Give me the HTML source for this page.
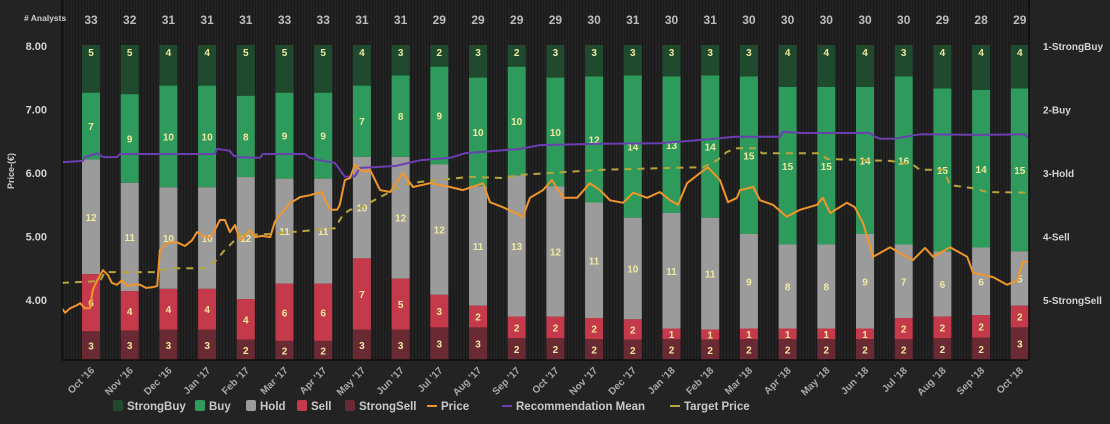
<!DOCTYPE html>
<html><head><meta charset="utf-8"><style>
html,body{margin:0;padding:0;background:#232323;}
svg text{font-family:"Liberation Sans",sans-serif;font-weight:bold;}
</style></head><body>
<svg id="chart" width="1110" height="419" xmlns="http://www.w3.org/2000/svg">
<defs>
<pattern id="stripes" width="3" height="10" patternUnits="userSpaceOnUse">
<rect width="3" height="10" fill="#222"/><rect width="1" height="10" fill="#1a1a1a"/>
</pattern>
</defs>
<rect width="1110" height="419" fill="#232323"/>
<rect x="62" y="0" width="967" height="360" fill="url(#stripes)"/>
<g id="bars"></g>
<g id="lines"></g>
<g id="axes"></g>
<g id="legend"></g>
</svg>
<script>
const months = ["Oct '16","Nov '16","Dec '16","Jan '17","Feb '17","Mar '17","Apr '17","May '17","Jun '17","Jul '17","Aug '17","Sep '17","Oct '17","Nov '17","Dec '17","Jan '18","Feb '18","Mar '18","Apr '18","May '18","Jun '18","Jul '18","Aug '18","Sep '18","Oct '18"];
const strongBuy = [5,5,4,4,5,5,5,4,3,2,3,2,3,3,3,3,3,3,4,4,4,3,4,4,4];
const buy = [7,9,10,10,8,9,9,7,8,9,10,10,10,12,14,13,14,15,15,15,14,16,15,14,15];
const hold = [12,11,10,10,12,11,11,10,12,12,11,13,12,11,10,11,11,9,8,8,9,7,6,6,5];
const sell = [6,4,4,4,4,6,6,7,5,3,2,2,2,2,2,1,1,1,1,1,1,2,2,2,2];
const strongSell = [3,3,3,3,2,2,2,3,3,3,3,2,2,2,2,2,2,2,2,2,2,2,2,2,3];
const priceTicks = ["4.00","5.00","6.00","7.00","8.00"];
const ratingTicks = ["1-StrongBuy","2-Buy","3-Hold","4-Sell","5-StrongSell"];
const priceT = [-0.75,-0.67,-0.54,-0.36,-0.28,-0.16,-0.03,0.05,0.16,0.31,0.44,0.54,0.67,0.80,0.93,1.09,1.27,1.42,1.58,1.71,1.78,1.91,2.04,2.25,2.43,2.61,2.74,2.89,3.07,3.20,3.33,3.46,3.59,3.72,3.85,3.98,4.11,4.24,4.42,4.63,4.75,4.88,5.01,5.14,5.27,5.40,5.66,5.87,5.97,6.05,6.18,6.36,6.43,6.56,6.69,6.82,6.95,7.08,7.21,7.47,7.73,8.06,8.32,8.76,9.28,9.61,10.13,10.31,10.65,11.16,11.34,11.68,11.91,12.20,12.56,12.89,13.15,13.41,13.75,14.01,14.37,14.70,14.96,15.17,15.40,15.74,15.94,16.25,16.46,16.69,16.77,17.11,17.29,17.62,17.98,18.32,18.76,18.91,19.10,19.53,19.74,19.95,20.21,20.65,20.90,21.24,21.55,21.76,22.20,22.64,22.79,23.31,23.67,23.93,24.08,24.24];
const priceV = [3.87,3.80,3.87,3.92,3.95,3.87,3.87,4.16,4.31,4.47,4.39,4.27,4.24,4.31,4.22,4.24,4.24,4.19,4.20,4.22,4.79,4.87,4.91,4.90,4.85,4.94,5.07,5.01,4.98,5.10,5.26,5.26,5.07,5.18,4.94,5.01,5.10,4.99,5.01,4.99,5.23,5.34,5.42,5.53,5.57,5.62,5.65,5.69,5.70,5.57,5.42,5.42,5.50,5.89,5.92,6.13,6.05,6.02,6.05,5.73,5.70,6.00,5.78,5.84,5.78,5.73,5.84,5.54,5.46,5.31,5.61,5.73,5.89,5.61,5.61,5.84,5.73,5.57,5.53,5.69,5.61,5.70,5.57,5.50,5.84,6.00,6.09,5.89,5.54,5.61,5.73,5.78,5.57,5.50,5.31,5.42,5.50,5.61,5.37,5.53,5.46,5.21,4.68,4.83,4.74,4.63,4.82,4.68,4.83,4.68,4.43,4.36,4.24,4.31,4.60,4.60];
const recT = [-0.75,-0.21,-0.16,0.16,0.31,0.67,0.75,3.20,3.26,3.59,3.67,3.80,4.37,4.44,5.53,5.66,5.92,6.30,6.56,6.82,6.95,7.86,8.50,9.28,9.66,11.09,11.60,13.15,14.70,15.74,16.64,17.80,17.88,18.32,20.13,20.26,20.39,20.78,21.03,21.42,22.97,24.13,24.24];
const recV = [2.83,2.81,2.75,2.69,2.75,2.75,2.70,2.70,2.62,2.65,2.72,2.75,2.76,2.70,2.70,2.76,2.80,2.84,3.06,3.05,2.92,2.89,2.80,2.76,2.69,2.62,2.56,2.54,2.53,2.48,2.43,2.43,2.35,2.37,2.37,2.43,2.46,2.46,2.43,2.39,2.40,2.39,2.45];
const targetT = [-0.75,0.23,0.36,1.65,1.78,2.17,2.95,3.20,3.46,3.85,4.63,6.30,6.51,6.69,6.95,7.47,8.06,8.50,9.79,10.65,11.09,12.38,13.23,14.96,15.81,16.18,16.43,16.69,17.21,17.34,18.84,19.02,20.65,21.24,21.42,22.02,22.20,22.79,23.15,24.24];
const targetV = [4.27,4.30,4.44,4.44,4.47,4.50,4.50,4.60,4.79,5.02,5.04,5.13,5.34,5.42,5.45,5.62,5.81,5.86,5.94,5.92,5.97,6.02,6.05,6.08,6.09,6.20,6.33,6.39,6.39,6.31,6.31,6.22,6.19,6.13,6.05,6.05,5.81,5.76,5.70,5.69];

const NS="http://www.w3.org/2000/svg";
const PLOT_TOP=45, PLOT_BOT=360, X0=91, DX=38.7, BW=18;
const xOf=t=>X0+t*DX;
const yPrice=p=>46+(8-p)*63.5;
const yRating=r=>46+(r-1)*63.5;
function mk(tag,attrs,parent,text){const e=document.createElementNS(NS,tag);for(const k in attrs)e.setAttribute(k,attrs[k]);if(text!==undefined)e.textContent=text;parent.appendChild(e);return e;}
const bars=document.getElementById('bars'), lines=document.getElementById('lines'), axes=document.getElementById('axes'), legend=document.getElementById('legend');
const cats=[["strongbuy",strongBuy,"#1f4a2e"],["buy",buy,"#2e9a5c"],["hold",hold,"#9b9b9b"],["sell",sell,"#c43a4b"],["strongsell",strongSell,"#6a2a33"]];
months.forEach((m,i)=>{
  const total=strongBuy[i]+buy[i]+hold[i]+sell[i]+strongSell[i];
  const cx=xOf(i); let y=PLOT_TOP; const unit=(PLOT_BOT-PLOT_TOP)/total;
  cats.forEach(c=>{
    const v=c[1][i], h=v*unit;
    const r=mk('rect',{x:cx-BW/2,y:y,width:BW,height:h,fill:c[2]},bars);
    
    
    const lbl=mk('text',{x:cx,y:(c[0]==="strongbuy"?y+11:y+h/2+4),'text-anchor':'middle','font-size':'10',fill:'#f0e9a0'},bars,String(v));
    
    
    y+=h;
  });
  const tc=mk('text',{x:cx,y:24,'text-anchor':'middle','font-size':'12',fill:'#bdbdbd'},axes,String(total));
  
  
  const xl=mk('text',{x:cx+4,y:371,'text-anchor':'end','font-size':'10',fill:'#a8a8a8',transform:`rotate(-45 ${cx+4} 371)`},axes,m);
  
  
});
function drawLine(ts,vs,yf,color,w,dash,name){
  const d=ts.map((t,i)=>(i?'L':'M')+xOf(t).toFixed(1)+' '+yf(vs[i]).toFixed(1)).join(' ');
  const p=mk('path',{d:d,fill:'none',stroke:color,'stroke-width':w,'stroke-linejoin':'round'},lines);
  if(dash)p.setAttribute('stroke-dasharray',dash);
  
  
}
drawLine(recT,recV,yRating,'#6a3fb0',2,null,'recommendation-mean-line');
drawLine(targetT,targetV,yPrice,'#b7a53e',2,'7,6','target-price-line');
drawLine(priceT,priceV,yPrice,'#f0952c',2,null,'price-line');
// axes lines
let a=mk('line',{x1:62,y1:0,x2:62,y2:360,stroke:'#0c0c0c','stroke-width':1.5},axes);

a=mk('line',{x1:62,y1:360,x2:1029,y2:360,stroke:'#0c0c0c','stroke-width':1.5},axes);

a=mk('line',{x1:1029,y1:0,x2:1029,y2:360,stroke:'#0c0c0c','stroke-width':1.5},axes);

priceTicks.forEach(t=>{
  const e=mk('text',{x:47,y:yPrice(parseFloat(t))+4,'text-anchor':'end','font-size':'11',fill:'#d4d4d4'},axes,t);
  
  
});
ratingTicks.forEach((t,i)=>{
  const e=mk('text',{x:1043,y:yRating(i+1)+4,'font-size':'10',fill:'#d4d4d4'},axes,t);
  
  
});
let e=mk('text',{x:24,y:21,'font-size':'8.5',fill:'#cfcfcf'},axes,'# Analysts');

e=mk('text',{x:14,y:171,'text-anchor':'middle','font-size':'9',fill:'#cfcfcf',transform:'rotate(-90 14 171)','font-weight':'normal'},axes,'Price-(€)');

// legend
const legItems=[["StrongBuy","#1f4a2e","box",113],["Buy","#2e9a5c","box",195],["Hold","#9b9b9b","box",246],["Sell","#c43a4b","box",297],["StrongSell","#6a2a33","box",345],["Price","#f0952c","line",427],["Recommendation Mean","#6a3fb0","line",502],["Target Price","#b7a53e","line",670]];
legItems.forEach(it=>{
  const g=mk('g',{},legend);
  
  
  if(it[2]==="box")mk('rect',{x:it[3],y:400,width:10,height:11,rx:2,fill:it[1]},g);
  else mk('rect',{x:it[3],y:405,width:10,height:2,fill:it[1]},g);
  mk('text',{x:it[3]+14,y:410,'font-size':'11.5',fill:'#c8c8c8'},g,it[0]);
});
</script>
</body></html>
